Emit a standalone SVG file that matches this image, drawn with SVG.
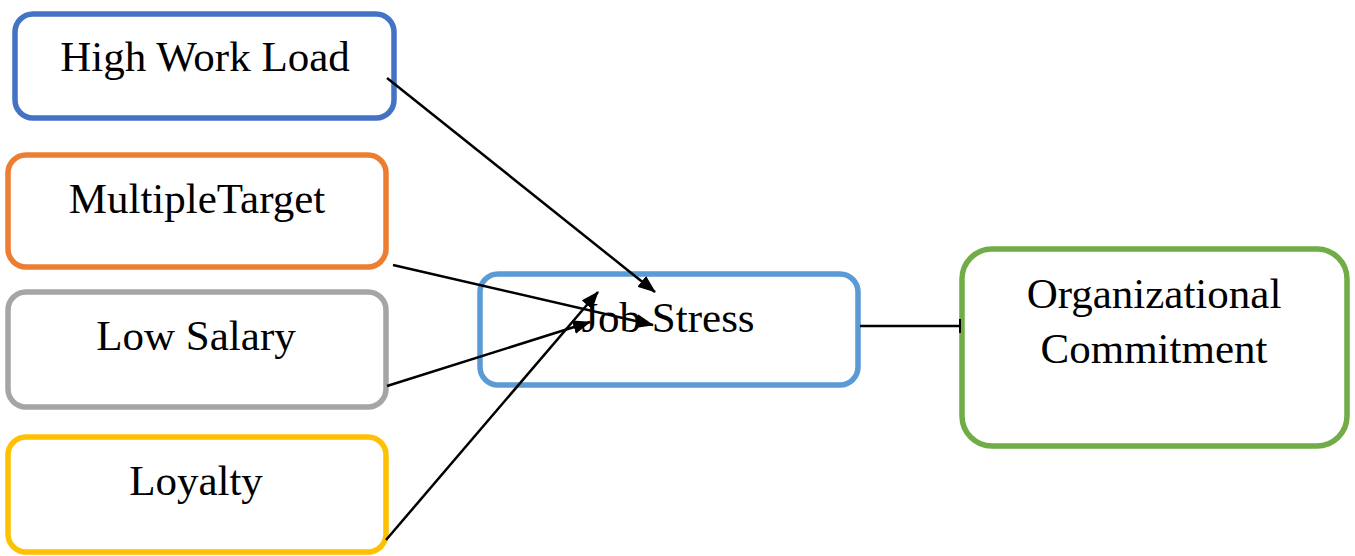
<svg xmlns="http://www.w3.org/2000/svg" width="1355" height="556" viewBox="0 0 1355 556">
<style>
.box{fill:#fff;stroke-width:5.5}
.t{font-family:"Liberation Serif","Times New Roman",serif;font-size:43px;fill:#000;text-anchor:middle}
.c{stroke:#000;stroke-width:2.5;fill:none}
</style>
<defs>
<marker id="ah" markerUnits="userSpaceOnUse" markerWidth="18" markerHeight="14" refX="17" refY="7" orient="auto">
<path d="M0,0 L18,7 L0,14 Z" fill="#000"/>
</marker>
<marker id="tick" markerUnits="userSpaceOnUse" markerWidth="4" markerHeight="14" refX="2" refY="7" orient="auto">
<path d="M2,0 L2,14" stroke="#000" stroke-width="2"/>
</marker>
</defs>
<g id="n-highworkload"><rect class="box" x="15" y="14" width="379" height="104" rx="18" stroke="#4472C4"/><text class="t" x="205" y="71">High Work Load</text></g>
<g id="n-multipletarget"><rect class="box" x="8" y="155" width="378" height="112" rx="18" stroke="#ED7D31"/><text class="t" x="197" y="213">MultipleTarget</text></g>
<g id="n-lowsalary"><rect class="box" x="8" y="292" width="378" height="115" rx="18" stroke="#A5A5A5"/><text class="t" x="196" y="350">Low Salary</text></g>
<g id="n-loyalty"><rect class="box" x="8" y="437" width="378" height="115" rx="18" stroke="#FFC000"/><text class="t" x="196" y="495">Loyalty</text></g>
<g id="n-jobstress"><rect class="box" x="480" y="274" width="378" height="111" rx="18" stroke="#5B9BD5"/><text class="t" x="668" y="332">Job Stress</text></g>
<g id="n-orgcommitment"><rect class="box" x="962" y="249" width="385" height="197" rx="30" stroke="#70AD47"/><text class="t" x="1154" y="308">Organizational</text><text class="t" x="1154" y="363">Commitment</text></g>
<g id="connectors">
<line class="c" x1="387" y1="78" x2="655" y2="292" marker-end="url(#ah)"/>
<line class="c" x1="393" y1="265" x2="653" y2="325" marker-end="url(#ah)"/>
<line class="c" x1="387" y1="386" x2="590" y2="322" marker-end="url(#ah)"/>
<line class="c" x1="386" y1="540" x2="598" y2="292" marker-end="url(#ah)"/>
<line class="c" x1="860" y1="326" x2="960" y2="326" marker-end="url(#tick)"/>
</g>
</svg>
